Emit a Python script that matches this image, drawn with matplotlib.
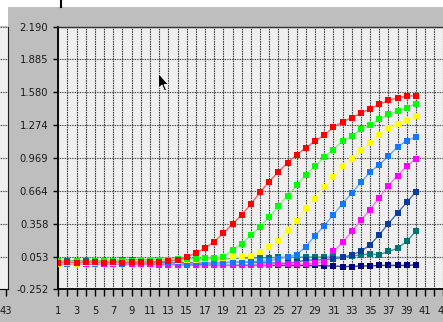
import matplotlib
matplotlib.use("Agg")
import matplotlib.pyplot as plt
from matplotlib.patches import Rectangle, Polygon
from matplotlib.ticker import FixedLocator, MultipleLocator

# ---- data -------------------------------------------------------------
cycles = list(range(1, 41))

red = [-0.005, 0.0, -0.005, 0.0, 0.0, -0.005, 0.0, -0.005, 0.0, 0.0,
       0.005, 0.005, 0.01, 0.022, 0.05, 0.085, 0.13, 0.19, 0.27, 0.355,
       0.44, 0.54, 0.65, 0.75, 0.84, 0.924, 1.0, 1.064, 1.126, 1.18,
       1.256, 1.306, 1.344, 1.384, 1.428, 1.468, 1.505, 1.53, 1.545, 1.548]

green = [0.01, 0.005, 0.01, 0.005, 0.01, 0.01, 0.015, 0.01, 0.015, 0.02,
         0.02, 0.025, 0.025, 0.03, 0.03, 0.03, 0.038, 0.038, 0.053, 0.11,
         0.17, 0.25, 0.33, 0.42, 0.52, 0.62, 0.715, 0.815, 0.893, 0.977,
         1.048, 1.126, 1.172, 1.235, 1.275, 1.328, 1.375, 1.405, 1.437, 1.475]

yellow = [-0.015, -0.01, -0.015, -0.01, -0.01, -0.005, -0.01, -0.005, 0.0, 0.0,
          0.005, 0.01, 0.01, 0.015, 0.02, 0.025, 0.03, 0.035, 0.04, 0.045,
          0.05, 0.06, 0.094, 0.146, 0.193, 0.30, 0.385, 0.50, 0.59, 0.697,
          0.79, 0.893, 0.964, 1.048, 1.11, 1.18, 1.244, 1.288, 1.319, 1.359]

blue = [-0.01, -0.015, -0.01, -0.01, -0.015, -0.01, -0.01, -0.015, -0.01, -0.01,
        -0.01, -0.01, -0.01, -0.01, -0.015, -0.01, -0.01, -0.005, -0.005, 0.0,
        0.0, 0.005, 0.01, 0.015, 0.03, 0.05, 0.07, 0.146, 0.246, 0.34,
        0.44, 0.545, 0.644, 0.743, 0.837, 0.908, 0.986, 1.073, 1.13, 1.163]

magenta = [-0.02, -0.02, -0.015, -0.02, -0.02, -0.015, -0.02, -0.02, -0.02, -0.02,
           -0.02, -0.025, -0.025, -0.025, -0.025, -0.03, -0.03, -0.025, -0.03, -0.025,
           -0.025, -0.025, -0.025, -0.025, -0.02, -0.02, -0.02, -0.015, -0.01, 0.006,
           0.10, 0.184, 0.286, 0.39, 0.49, 0.60, 0.713, 0.806, 0.893, 0.964]

darkblue = [0.0, 0.005, 0.0, 0.005, 0.0, 0.0, 0.005, 0.0, 0.0, 0.005,
            0.0, 0.0, -0.005, 0.0, -0.005, -0.005, -0.01, -0.005, -0.005, 0.0,
            0.0, 0.0, -0.005, -0.005, -0.01, -0.01, 0.0, 0.02, 0.02, 0.025,
            0.03, 0.045, 0.069, 0.10, 0.162, 0.255, 0.358, 0.458, 0.557, 0.656]

teal = [0.01, 0.01, 0.015, 0.01, 0.01, 0.015, 0.015, 0.02, 0.02, 0.02,
        0.025, 0.025, 0.025, 0.03, 0.03, 0.03, 0.03, 0.035, 0.035, 0.035,
        0.04, 0.04, 0.04, 0.04, 0.045, 0.045, 0.047, 0.047, 0.047, 0.047,
        0.047, 0.045, 0.055, 0.069, 0.075, 0.07, 0.10, 0.13, 0.193, 0.29]

navy = [-0.01, -0.01, -0.015, -0.01, -0.01, -0.015, -0.01, -0.015, -0.015, -0.015,
        -0.02, -0.02, -0.02, -0.02, -0.025, -0.025, -0.025, -0.03, -0.03, -0.03,
        -0.03, -0.03, -0.03, -0.03, -0.03, -0.03, -0.03, -0.03, -0.03, -0.035,
        -0.035, -0.04, -0.04, -0.035, -0.035, -0.03, -0.03, -0.03, -0.03, -0.025]

# drawn back to front: the first entry sits underneath
series = [
    (navy, "#000080", "#3a3aa0"),
    (teal, "#007373", "#3a9a9a"),
    (darkblue, "#0a3c9e", "#4a70c0"),
    (magenta, "#ff00ff", "#ff70ff"),
    (blue, "#1478ff", "#70a8ff"),
    (yellow, "#ffff00", "#ffff70"),
    (green, "#00ff00", "#70ff70"),
    (red, "#ff0000", "#ff6060"),
]

ytick_values = [-0.252, 0.053, 0.358, 0.664, 0.969, 1.274, 1.580, 1.885, 2.190]
ytick_labels = ["-0.252", "0.053", "0.358", "0.664", "0.969", "1.274",
                "1.580", "1.885", "2.190"]
xtick_major = list(range(1, 44, 2))

# ---- figure -----------------------------------------------------------
W, H = 443, 322
fig = plt.figure(figsize=(W / 100, H / 100), dpi=100)
fig.patch.set_facecolor("#bebebe")

def px_box(x0, y0, x1, y1):
    return [x0 / W, 1 - y1 / H, (x1 - x0) / W, (y1 - y0) / H]

# white strip along the top of the window
fig.patches.append(Rectangle((0, 1 - 7 / H), 1, 7 / H, transform=fig.transFigure,
                             facecolor="white", edgecolor="none", zorder=0))
fig.patches.append(Rectangle((0, 1 - 26 / H), 8 / W, 26 / H, transform=fig.transFigure,
                             facecolor="white", edgecolor="none", zorder=0))
fig.add_artist(plt.Line2D([61 / W, 61 / W], [1, 1 - 7 / H], transform=fig.transFigure,
                          color="black", lw=1.5))

text_kw = dict(family="DejaVu Sans", size=7.2, color="#1a1a1a")
grid_h = dict(color="#303030", linestyle=(0, (0.75, 0.75)), linewidth=0.8)
grid_v = dict(color="#3c3c3c", linestyle=(0, (1.4, 0.8)), linewidth=0.8)

top_px, bot_px = 26.7, 289.3
px_per_cycle = 9.17

# neighbouring chart, only its right edge is visible
left_w_px = 200
axl = fig.add_axes(px_box(7.5 - left_w_px, top_px, 7.5, bot_px))
axl.set_facecolor("#efefef")
axl.set_ylim(-0.252, 2.190)
axl.set_xlim(43.16 - left_w_px / px_per_cycle, 43.16)
axl.yaxis.set_major_locator(FixedLocator(ytick_values))
axl.set_yticklabels([])
axl.tick_params(axis="y", length=0)
axl.set_xticks([43])
axl.set_xticklabels(["43"], **text_kw)
axl.tick_params(axis="x", direction="out", length=5, width=1, pad=7, colors="black")
for lab in axl.get_xticklabels():
    lab.set_color("#1a1a1a")
axl.grid(axis="y", **grid_h)
for s in ["top", "left"]:
    axl.spines[s].set_visible(False)
axl.spines["right"].set_color("#202020")
axl.spines["bottom"].set_color("black")

# main chart
ax = fig.add_axes(px_box(58.3, top_px, 58.3 + 42 * px_per_cycle, bot_px))
ax.set_facecolor("#efefef")
ax.set_xlim(1, 43)
ax.set_ylim(-0.252, 2.190)

for vals, mcol, lcol in series:
    ax.plot(cycles, vals, color=lcol, lw=1.0, zorder=3)
    ax.plot(cycles, vals, linestyle="none", marker="s", markersize=4.9,
            markerfacecolor=mcol, markeredgewidth=0, zorder=4)

ax.yaxis.set_major_locator(FixedLocator(ytick_values))
ax.set_yticklabels(ytick_labels, **text_kw)
ax.xaxis.set_major_locator(FixedLocator(xtick_major))
ax.xaxis.set_minor_locator(MultipleLocator(1))
ax.set_xticklabels([str(v) for v in xtick_major], **text_kw)
ax.tick_params(axis="x", which="both", direction="out", length=5, width=1,
               pad=7, colors="black")
ax.tick_params(axis="y", direction="out", length=3.6, width=1, pad=3.6, colors="black")
for lab in ax.get_xticklabels() + ax.get_yticklabels():
    lab.set_color("#1a1a1a")

ax.grid(axis="y", which="major", **grid_h)
ax.grid(axis="x", which="both", **grid_v)
ax.set_axisbelow(True)

ax.spines["right"].set_visible(False)
ax.spines["top"].set_color("#303030")
ax.spines["top"].set_linewidth(1.0)
ax.spines["left"].set_color("black")
ax.spines["left"].set_linewidth(1.3)
ax.spines["bottom"].set_color("black")
ax.spines["bottom"].set_linewidth(1.3)

# mouse pointer resting over the plot
tip_x, tip_y = 158.5, 73.5
pointer = [(0, 0), (0, 15), (3.5, 11.5), (6, 17.5), (8, 16.5), (5.5, 11), (10, 11)]
fig.patches.append(Polygon([((tip_x + dx) / W, 1 - (tip_y + dy) / H) for dx, dy in pointer],
                           closed=True, transform=fig.transFigure, facecolor="black",
                           edgecolor="white", linewidth=0.6, zorder=10))

fig.savefig("out.png", dpi=100, facecolor=fig.get_facecolor())
